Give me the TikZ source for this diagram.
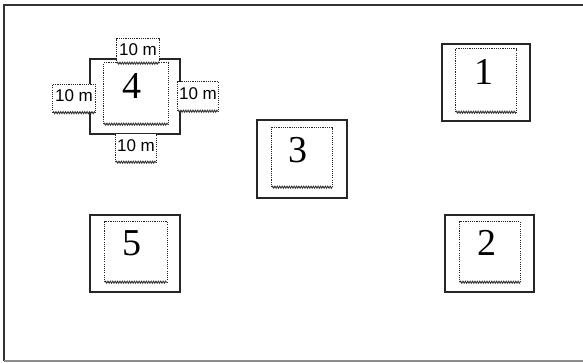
\documentclass[tikz,border=0pt]{standalone}
\usepackage{fontspec}
\setmainfont{Liberation Serif}
\newfontfamily\lblfont{Liberation Sans}
\usetikzlibrary{decorations.pathmorphing}
\tikzset{
  outerbox/.style={draw=black!85, line width=1.3pt, fill=white, inner sep=0pt},
  innerbox/.style={inner sep=0pt},
  innerline/.style={draw=black!85, line width=1.3pt, dash pattern=on 1.1pt off 1.1pt},
  wavy/.style={draw=black!80, line width=0.9pt, decorate, decoration={snake, amplitude=1pt, segment length=2.4pt}},
  digit/.style={font=\fontsize{38}{40}\selectfont, inner sep=0pt},
  lbl/.style={fill=white, inner sep=0pt, font=\lblfont\fontsize{17}{18}\selectfont},
}
\begin{document}
\begin{tikzpicture}[x=1pt,y=-1pt]
\useasboundingbox (0,0) rectangle (583,363);
% frame
\draw[black!80, line width=1.6pt] (583,5) -- (4,5) -- (4,361);
\draw[black!45, line width=1.4pt] (4,361) -- (583,361);

% outer boxes
\node[outerbox, minimum width=90pt, minimum height=75pt] (o4) at (135,96.5) {};
\node[outerbox, minimum width=88pt, minimum height=77pt] (o1) at (486,82.5) {};
\node[outerbox, minimum width=90pt, minimum height=78pt] (o3) at (302,159) {};
\node[outerbox, minimum width=90pt, minimum height=77pt] (o5) at (135,253.5) {};
\node[outerbox, minimum width=89pt, minimum height=77pt] (o2) at (489.5,253.5) {};

% inner dotted boxes
\node[innerbox, minimum width=64pt, minimum height=61pt] (i4) at (136,93.5) {};
\node[innerbox, minimum width=60pt, minimum height=63pt] (i1) at (486,80.5) {};
\node[innerbox, minimum width=60pt, minimum height=59pt] (i3) at (302,157.5) {};
\node[innerbox, minimum width=62pt, minimum height=60pt] (i5) at (136,252) {};
\node[innerbox, minimum width=60pt, minimum height=60pt] (i2) at (490,252) {};
\foreach \n in {i4,i1,i3,i5,i2}{
  \draw[innerline] (\n.south west) -- (\n.north west) -- (\n.north east) -- (\n.south east);
  \draw[wavy] (\n.south west) -- (\n.south east);
}

% digits
\node[digit] (d4) at (132,86) {4};
\node[digit] (d1) at (484,72) {1};
\node[digit] (d3) at (298,150) {3};
\node[digit] (d5) at (132,243) {5};
\node[digit] (d2) at (487,243) {2};

% distance labels
\node[lbl, minimum width=42pt, minimum height=24pt, text depth=3pt] (lt) at (138,51) {10 m};
\node[lbl, minimum width=42pt, minimum height=28pt, text depth=5pt] (ll) at (74,98.5) {10 m};
\node[lbl, minimum width=40pt, minimum height=29pt, text depth=5pt] (lr) at (198,96.5) {10 m};
\node[lbl, minimum width=40pt, minimum height=28pt, text depth=5pt] (lb) at (136,148) {10 m};
\foreach \n in {lt,ll,lr,lb}{
  \draw[innerline, line width=1.1pt] (\n.south west) -- (\n.north west) -- (\n.north east) -- (\n.south east);
  \draw[wavy] (\n.south west) -- (\n.south east);
}
\end{tikzpicture}
\end{document}
